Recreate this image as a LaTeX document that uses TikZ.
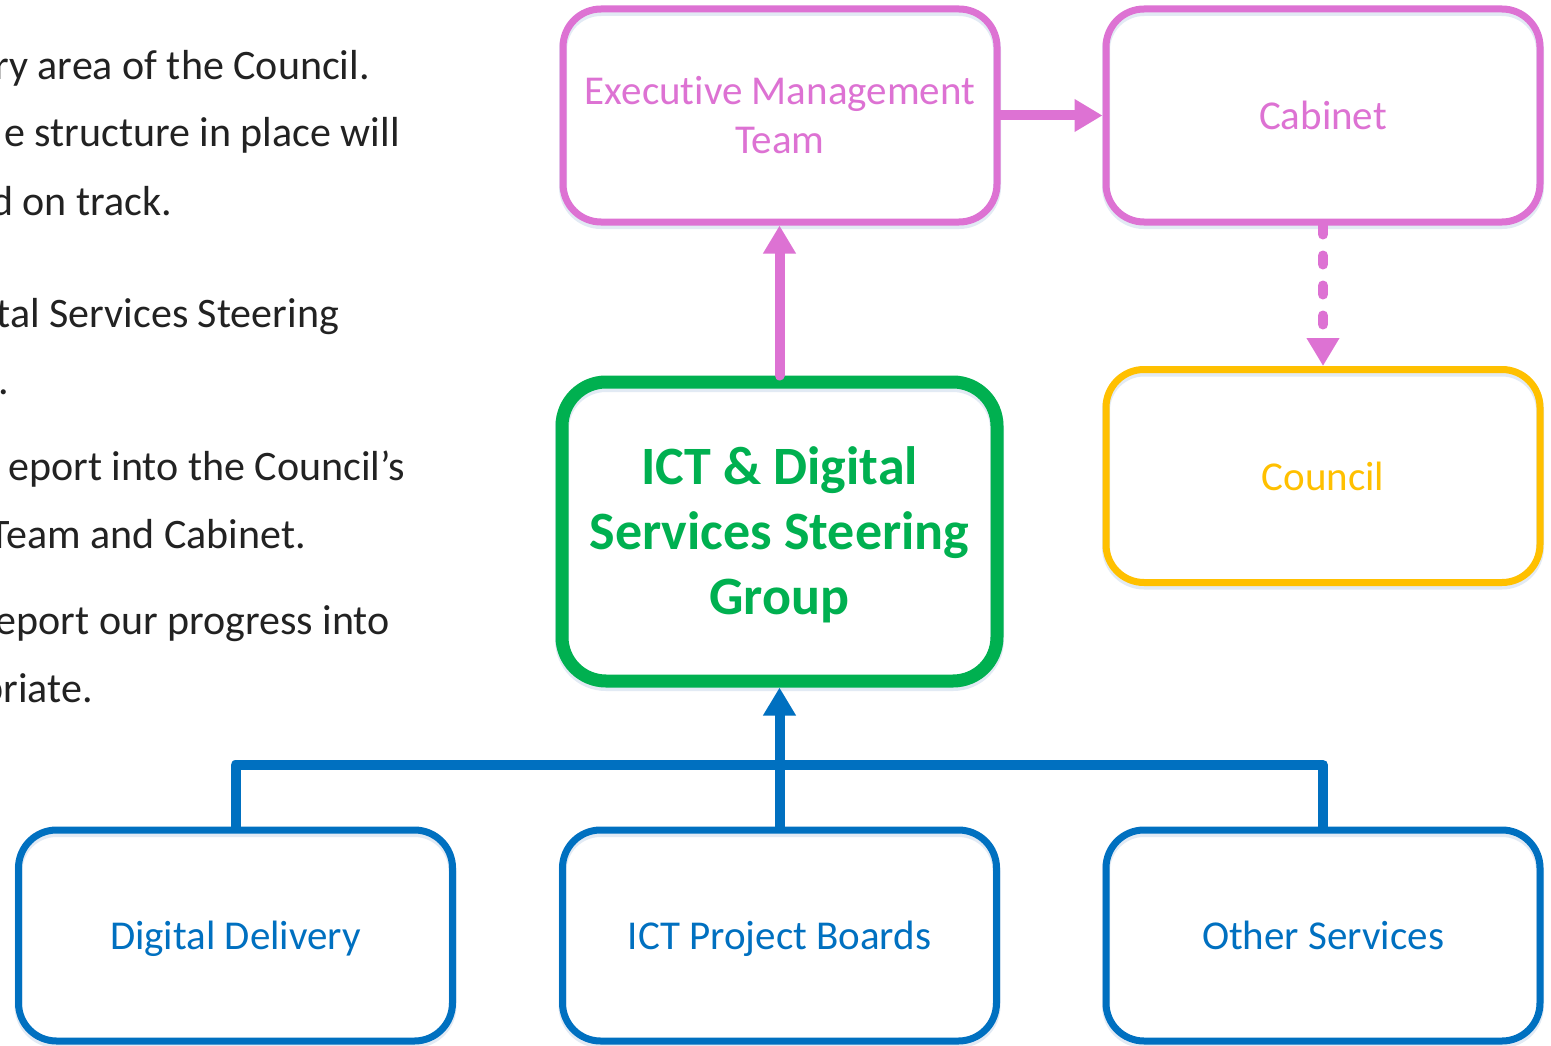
\documentclass[tikz,border=0pt]{standalone}
\usepackage{fontspec}
\setmainfont{Carlito}[Ligatures=NoCommon]
\usetikzlibrary{arrows.meta}

\definecolor{orchidline}{HTML}{DD72D3}
\definecolor{steergreen}{HTML}{00B050}
\definecolor{councilgold}{HTML}{FFC000}
\definecolor{boardblue}{HTML}{0070C0}
\definecolor{bodytext}{HTML}{222222}
\definecolor{haze}{HTML}{E2EAF4}

\begin{document}
\begin{tikzpicture}[x=1pt,y=-1pt,
  box/.style={draw, rounded corners=38pt, line width=7pt,
    minimum width=434pt, minimum height=213pt, inner sep=0pt,
    align=center, font=\fontsize{41}{49}\selectfont,
    preaction={draw=haze, line width=8pt, transform canvas={yshift=-3pt}}},
  pinkbox/.style={box, draw=orchidline, text=orchidline},
  goldbox/.style={box, draw=councilgold, text=councilgold},
  bluebox/.style={box, draw=boardblue, text=boardblue, minimum height=211pt,
    text depth=0pt},
  steerbox/.style={box, draw=steergreen, text=steergreen, line width=13pt,
    rounded corners=44pt, minimum width=435pt, minimum height=299pt,
    text depth=2pt, font=\fontsize{54}{65}\selectfont\bfseries,
    preaction={draw=haze, line width=14pt, transform canvas={yshift=-3pt}}},
  bodyline/.style={anchor=base east, inner sep=0pt, text=bodytext,
    font=\fontsize{42}{49}\selectfont},
  tip/.style={-{Triangle[length=28pt,width=31pt]}},
  link/.style={line width=10pt, line cap=round, line join=round},
  pinklink/.style={link, draw=orchidline, tip},
  bluelink/.style={link, draw=boardblue},
  dotlink/.style={pinklink, dash pattern=on 9pt off 21pt}
]
\useasboundingbox (0,0) rectangle (1551,1046);
\fill[white] (0,0) rectangle (1551,1046);

% running text along the left margin
\node[bodyline] (t1) at (370,80)  {ry area of the Council.};
\node[bodyline] (t2) at (400,147) {e structure in place will};
\node[bodyline] (t3) at (172,215) {d on track.};
\node[bodyline] (t4) at (339,327) {tal Services Steering};
\node[bodyline] (t5) at (9,394)   {.};
\node[bodyline] (t6) at (405,480) {eport into the Council’s};
\node[bodyline] (t7) at (306,548) {Team and Cabinet.};
\node[bodyline] (t8) at (390,634) {eport our progress into};
\node[bodyline] (t9) at (93,702)  {priate.};

% governance boxes
\node[pinkbox] (emt)  at (780,115.5)  {Executive Management\\Team};
\node[pinkbox] (cab)  at (1323,115.5) {Cabinet};
\node[goldbox] (coun) at (1323,476)   {Council};
\node[steerbox] (ssg) at (779.5,531.5) {ICT \& Digital\\Services Steering\\Group};
\node[bluebox] (dd)   at (235.5,935.5) {Digital Delivery};
\node[bluebox] (ipb)  at (779.5,935.5) {ICT Project Boards};
\node[bluebox] (os)   at (1323,935.5)  {Other Services};

% reporting lines
\draw[pinklink] (emt.east) -- (cab.west);
\draw[pinklink] (ssg.north) -- (ssg.north |- emt.south);
\draw[dotlink] (cab.south) -- (coun.north);

\coordinate (bus) at (779.5,765);
\draw[bluelink] (dd.north) |- (bus) -| (os.north);
\draw[bluelink, tip] (ipb.north) -- (ssg.south);
\end{tikzpicture}
\end{document}
